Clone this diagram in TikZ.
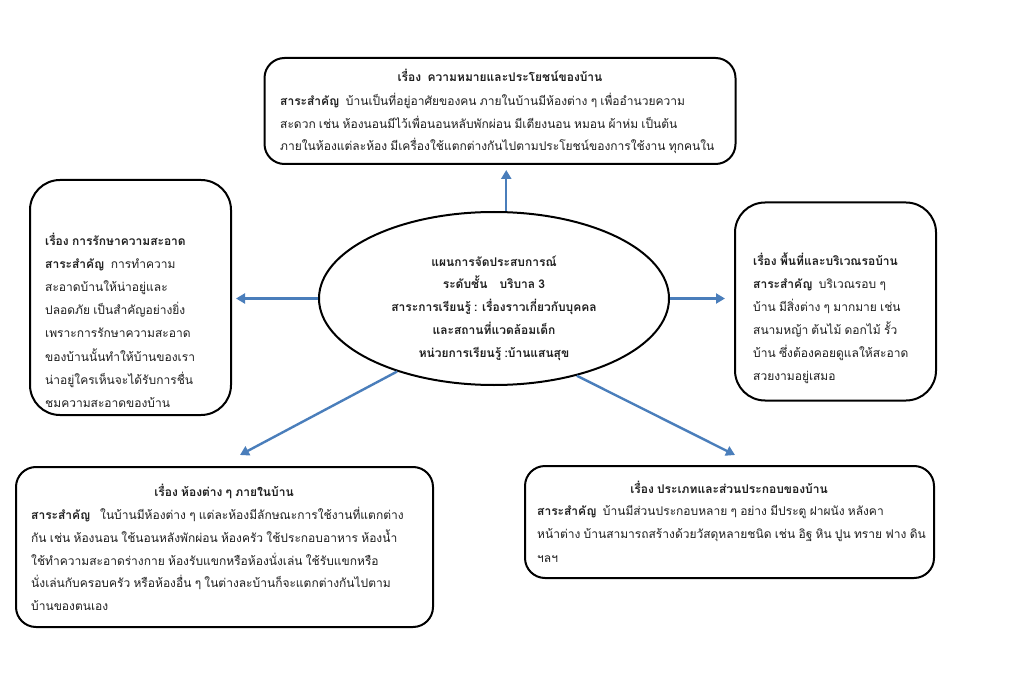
\documentclass[tikz,border=0pt]{standalone}
\usepackage{fontspec}
\setmainfont[Script=Thai,WordSpace=0.8]{Loma}
\usetikzlibrary{shapes.geometric,arrows.meta,calc}
\definecolor{arrblue}{RGB}{74,126,187}
\definecolor{txt}{RGB}{30,30,30}
\begin{document}
\begin{tikzpicture}[x=1pt,y=-1pt,
  box/.style={draw=black,line width=2pt,rounded corners=#1,inner sep=0pt},
  box/.default=20pt,
  body/.style={anchor=north west,align=left,inner sep=0pt,text=txt,font=\fontsize{12}{23}\selectfont},
  ttl/.style={anchor=north,inner sep=0pt,text=txt,font=\fontsize{12}{23}\selectfont\bfseries},
  arr/.style={draw=arrblue,line width=2.4pt,-{Triangle[length=9pt,width=10pt]}}]
\useasboundingbox (0,0) rectangle (1024,684);
\fill[white] (0,0) rectangle (1024,684);
% boxes
\node[box, minimum width=471pt, minimum height=106pt] (top) at (500,111) {};
\node[box=30pt, minimum width=201pt, minimum height=235pt] (lbox) at (130.5,297.5) {};
\node[box=30pt, minimum width=201pt, minimum height=198pt] (rbox) at (835.5,301.5) {};
\node[box, minimum width=417pt, minimum height=160pt] (blbox) at (224.5,547) {};
\node[box, minimum width=409pt, minimum height=112pt] (brbox) at (729.5,522) {};
\node[draw=black,line width=2pt,ellipse,minimum width=350pt,minimum height=173pt,inner sep=0pt] (ell) at (494,298.5) {};
% ellipse text
\node[inner sep=0pt,align=center,text=txt,font=\fontsize{12}{22.8}\selectfont\bfseries] (etxt) at (494,308) {แผนการจัดประสบการณ์\\ระดับชั้น\quad บริบาล 3\\สาระการเรียนรู้ : เรื่องราวเกี่ยวกับบุคคล\\และสถานที่แวดล้อมเด็ก\\หน่วยการเรียนรู้ :บ้านแสนสุข};
% top text
\node[ttl] (ttop) at (500,69) {เรื่อง\ \ ความหมายและประโยชน์ของบ้าน};
\node[body,font=\fontsize{12}{22.5}\selectfont] (btop) at (280,93) {\textbf{สาระสำคัญ}\ \ บ้านเป็นที่อยู่อาศัยของคน ภายในบ้านมีห้องต่าง ๆ เพื่ออำนวยความ\\สะดวก เช่น ห้องนอนมีไว้เพื่อนอนหลับพักผ่อน มีเตียงนอน หมอน ผ้าห่ม เป็นต้น\\ภายในห้องแต่ละห้อง มีเครื่องใช้แตกต่างกันไปตามประโยชน์ของการใช้งาน ทุกคนใน};
% left text
\node[body,font=\fontsize{12}{23.1}\selectfont] (blft) at (45,233) {\textbf{เรื่อง การรักษาความสะอาด}\\\textbf{สาระสำคัญ}\ \ การทำความ\\สะอาดบ้านให้น่าอยู่และ\\ปลอดภัย เป็นสำคัญอย่างยิ่ง\\เพราะการรักษาความสะอาด\\ของบ้านนั้นทำให้บ้านของเรา\\น่าอยู่ใครเห็นจะได้รับการชื่น\\ชมความสะอาดของบ้าน};
% right text
\node[body] (brgt) at (753,253) {\textbf{เรื่อง พื้นที่และบริเวณรอบ้าน}\\\textbf{สาระสำคัญ}\ \ บริเวณรอบ ๆ\\บ้าน มีสิ่งต่าง ๆ มากมาย เช่น\\สนามหญ้า ต้นไม้ ดอกไม้ รั้ว\\บ้าน ซึ่งต้องคอยดูแลให้สะอาด\\สวยงามอยู่เสมอ};
% bottom-left text
\node[ttl] (tbl) at (224,484) {เรื่อง ห้องต่าง ๆ ภายในบ้าน};
\node[body,font=\fontsize{12}{22.8}\selectfont] (bbl) at (31,507) {\textbf{สาระสำคัญ}\ \ \ ในบ้านมีห้องต่าง ๆ แต่ละห้องมีลักษณะการใช้งานที่แตกต่าง\\กัน เช่น ห้องนอน ใช้นอนหลังพักผ่อน ห้องครัว ใช้ประกอบอาหาร ห้องน้ำ\\ใช้ทำความสะอาดร่างกาย ห้องรับแขกหรือห้องนั่งเล่น ใช้รับแขกหรือ\\นั่งเล่นกับครอบครัว หรือห้องอื่น ๆ ในต่างละบ้านก็จะแตกต่างกันไปตาม\\บ้านของตนเอง};
% bottom-right text
\node[ttl] (tbr) at (729,481) {เรื่อง ประเภทและส่วนประกอบของบ้าน};
\node[body,font=\fontsize{12}{23.5}\selectfont] (bbr) at (537,505) {\textbf{สาระสำคัญ}\ \ บ้านมีส่วนประกอบหลาย ๆ อย่าง มีประตู ฝาผนัง หลังคา\\หน้าต่าง บ้านสามารถสร้างด้วยวัสดุหลายชนิด เช่น อิฐ หิน ปูน ทราย ฟาง ดิน\\ฯลฯ};
% arrows
\draw[arr,shorten >=5pt] (ell.82) -- (ell.82 |- top.south);
\draw[arr,shorten >=4pt] (ell.west) -- (ell.west -| lbox.east);
\draw[arr,shorten >=9pt] (ell.east) -- (ell.east -| rbox.west);
\coordinate (blend) at (240,455);
\coordinate (brend) at (735,455);
\draw[arr] (ell.217) -- (blend);
\draw[arr] (ell.317) -- (brend);
\end{tikzpicture}
\end{document}
